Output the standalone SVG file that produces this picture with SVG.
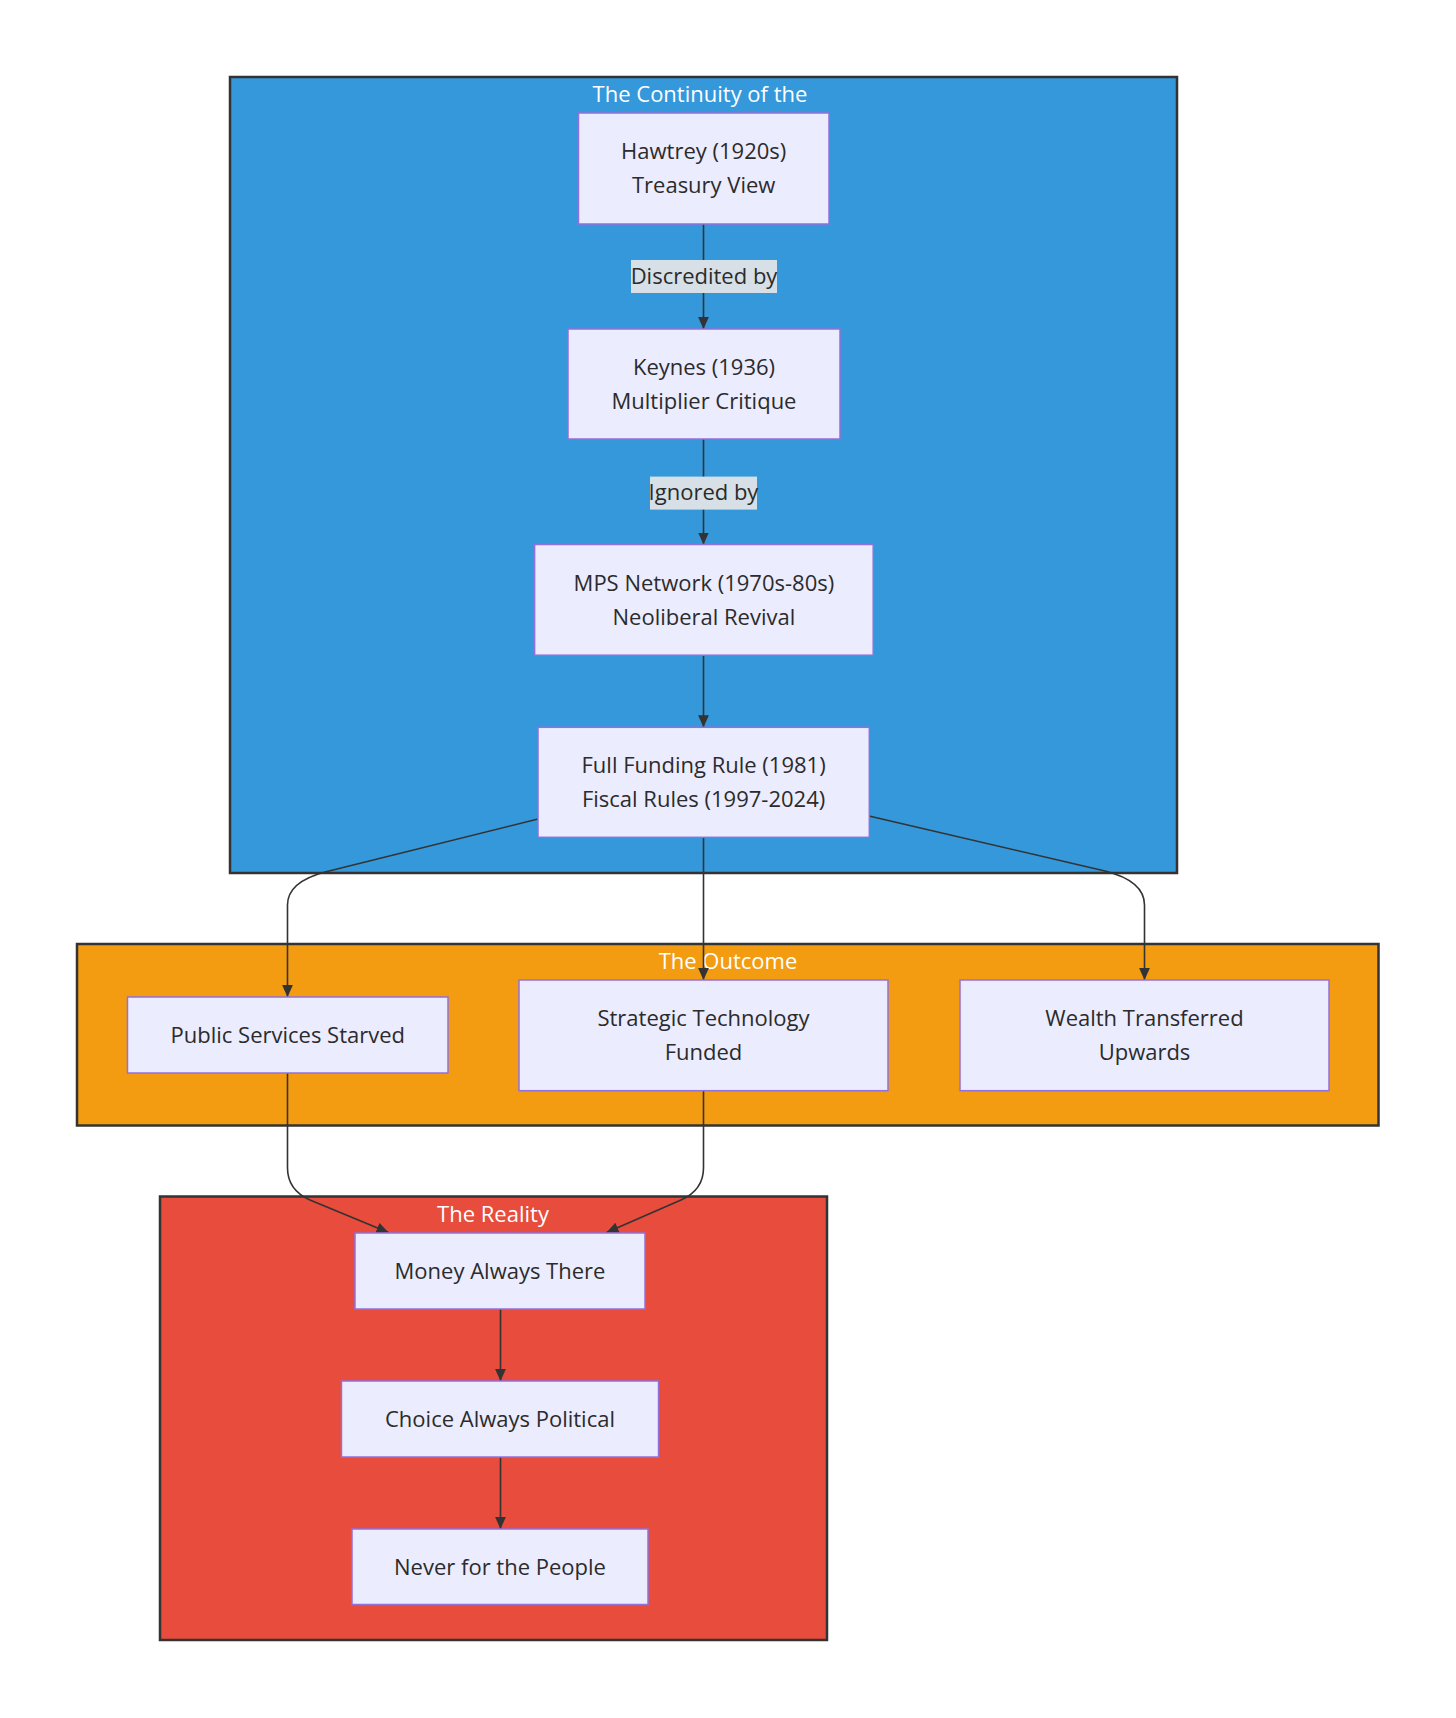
<svg xmlns="http://www.w3.org/2000/svg" width="1456" height="1718" viewBox="0 0 1456 1718">
<defs>
<style>
.cl{stroke:#333333;stroke-width:2.5}
.ct{font-family:"Open Sans","Liberation Sans",sans-serif;font-size:22px;fill:#ffffff;text-anchor:middle}
.nd rect{fill:#ECECFF;stroke:#9370DB;stroke-width:1.5}
.nd text{font-family:"Open Sans","Liberation Sans",sans-serif;font-size:22px;fill:#2b2b2b;text-anchor:middle}
.ed{fill:none;stroke:#333333;stroke-width:1.6}
.lb rect{fill:#d6e0e6}
.lb text{font-family:"Open Sans","Liberation Sans",sans-serif;font-size:22px;fill:#2b2b2b;text-anchor:middle}
</style>
<marker id="ah" viewBox="0 0 10 10" refX="10" refY="5" markerWidth="12" markerHeight="12" markerUnits="userSpaceOnUse" orient="auto">
<path d="M0,0.5 L10,5 L0,9.5 z" fill="#333333"/>
</marker>
</defs>
<rect width="1456" height="1718" fill="#ffffff"/>
<g id="clusters">
<g id="cluster-continuity"><rect class="cl" x="230" y="77" width="947" height="796" fill="#3498db"/><text class="ct" x="700" y="102">The Continuity of the</text></g>
<g id="cluster-outcome"><rect class="cl" x="77" y="944" width="1301.5" height="181.5" fill="#f39c12"/><text class="ct" x="728" y="969">The Outcome</text></g>
<g id="cluster-reality"><rect class="cl" x="160" y="1196.5" width="667" height="443.5" fill="#e74c3c"/><text class="ct" x="493" y="1222">The Reality</text></g>
</g>
<g id="connectors">
<path class="ed" d="M703.5,224 L703.5,329" marker-end="url(#ah)"/>
<path class="ed" d="M703.5,439 L703.5,544.5" marker-end="url(#ah)"/>
<path class="ed" d="M703.5,655 L703.5,727.3" marker-end="url(#ah)"/>
<path class="ed" d="M538,819 L325,872 Q287.5,882 287.5,905 L287.5,997" marker-end="url(#ah)"/>
<path class="ed" d="M703.5,837.3 L703.5,980" marker-end="url(#ah)"/>
<path class="ed" d="M869,816 L1105,871 Q1144.5,881 1144.5,905 L1144.5,980" marker-end="url(#ah)"/>
<path class="ed" d="M287.5,1073 L287.5,1168 Q287.5,1190 310,1200 L388.5,1232.5" marker-end="url(#ah)"/>
<path class="ed" d="M703.5,1090.7 L703.5,1168 Q703.5,1190 681,1200 L606.5,1232.5" marker-end="url(#ah)"/>
<path class="ed" d="M500.5,1309 L500.5,1381" marker-end="url(#ah)"/>
<path class="ed" d="M500.5,1457 L500.5,1529" marker-end="url(#ah)"/>
</g>
<g id="edge-labels">
<g class="lb" id="label-discredited"><rect x="631" y="260" width="146" height="33"/><text x="704" y="284">Discredited by</text></g>
<g class="lb" id="label-ignored"><rect x="650" y="476.6" width="107" height="33"/><text x="703.5" y="500">Ignored by</text></g>
</g>
<g class="nd" id="hawtrey"><rect x="578.5" y="113" width="250.5" height="111"/><text x="703.7" y="159.3">Hawtrey (1920s)</text><text x="703.7" y="193.3">Treasury View</text></g>
<g class="nd" id="keynes"><rect x="568" y="329" width="272" height="110"/><text x="704" y="375">Keynes (1936)</text><text x="704" y="409">Multiplier Critique</text></g>
<g class="nd" id="mps"><rect x="534.6" y="544.5" width="338.6" height="110.7"/><text x="703.9" y="590.8">MPS Network (1970s-80s)</text><text x="703.9" y="624.8">Neoliberal Revival</text></g>
<g class="nd" id="fullfunding"><rect x="538" y="727.3" width="331.3" height="110"/><text x="703.6" y="773.3">Full Funding Rule (1981)</text><text x="703.6" y="807.3">Fiscal Rules (1997-2024)</text></g>
<g class="nd" id="public"><rect x="127.5" y="997" width="320.5" height="76"/><text x="287.8" y="1043.3">Public Services Starved</text></g>
<g class="nd" id="strategic"><rect x="519" y="980" width="369" height="110.7"/><text x="703.5" y="1026">Strategic Technology</text><text x="703.5" y="1060">Funded</text></g>
<g class="nd" id="wealth"><rect x="960" y="980" width="369" height="110.7"/><text x="1144.5" y="1026">Wealth Transferred</text><text x="1144.5" y="1060">Upwards</text></g>
<g class="nd" id="money"><rect x="355" y="1233" width="290" height="76"/><text x="500" y="1279">Money Always There</text></g>
<g class="nd" id="choice"><rect x="341.5" y="1381" width="317" height="76"/><text x="500" y="1427">Choice Always Political</text></g>
<g class="nd" id="never"><rect x="352" y="1529" width="296" height="75.5"/><text x="500" y="1575">Never for the People</text></g>
</svg>
